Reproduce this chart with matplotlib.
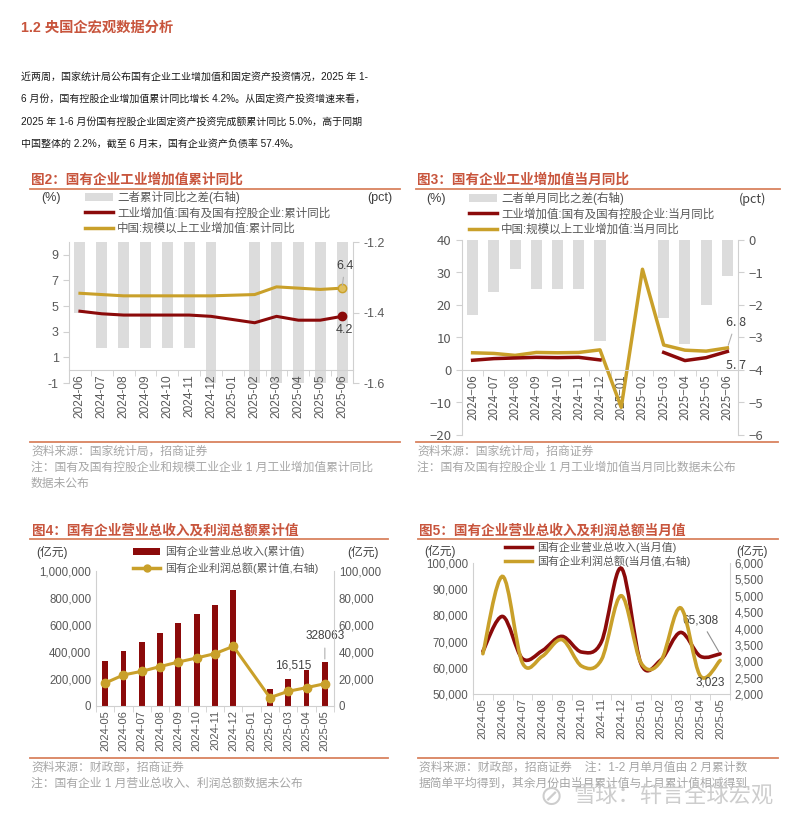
import numpy as np
import matplotlib.pyplot as plt
from matplotlib.path import Path
from matplotlib.patches import PathPatch, Patch
from matplotlib.lines import Line2D
from matplotlib.ticker import FuncFormatter

plt.rcParams['font.family'] = ['Liberation Sans', 'Noto Sans CJK SC']
plt.rcParams['axes.unicode_minus'] = False

nan = np.nan

# ---- data: industrial value added (fig 2 / fig 3) ----
months_a = ['2024-06', '2024-07', '2024-08', '2024-09', '2024-10', '2024-11', '2024-12',
            '2025-01', '2025-02', '2025-03', '2025-04', '2025-05', '2025-06']
cum_soe = [4.6, 4.4, 4.3, 4.3, 4.3, 4.3, 4.2, nan, 3.7, 4.2, 3.9, 3.9, 4.2]
cum_all = [6.0, 5.9, 5.8, 5.8, 5.8, 5.8, 5.8, nan, 5.9, 6.5, 6.4, 6.3, 6.4]
cum_diff = [-1.4, -1.5, -1.5, -1.5, -1.5, -1.5, -1.6, nan, -2.2, -2.3, -2.5, -2.4, -2.2]

mon_soe = [3.0, 3.5, 3.7, 3.9, 3.8, 3.9, 3.1, nan, nan, 5.4, 2.9, 3.8, 5.7]
mon_all = [5.3, 5.1, 4.5, 5.4, 5.3, 5.4, 6.2, -11.5, 31.0, 7.7, 6.1, 5.8, 6.8]
mon_diff = [-2.3, -1.6, -0.9, -1.5, -1.5, -1.5, -3.1, nan, nan, -2.4, -3.2, -2.0, -1.1]

# ---- data: revenue and profit (fig 4 / fig 5), 亿元 ----
months_b = ['2024-05', '2024-06', '2024-07', '2024-08', '2024-09', '2024-10', '2024-11',
            '2024-12', '2025-01', '2025-02', '2025-03', '2025-04', '2025-05']
rev_cum = [331000, 410000, 475000, 540000, 612000, 680000, 750000, 857000, nan,
           125000, 200000, 265000, 328063]
profit_cum = [17000, 23000, 25700, 29200, 32600, 35600, 38800, 44200, nan,
              6200, 10900, 13600, 16515]
rev_mon = [66300, 79600, 63500, 66500, 72000, 66000, 70000, 98000, 61500, 63000,
           73500, 64400, 65308]
profit_mon = [3230, 5590, 2950, 3150, 3660, 2850, 3050, 5000, 2950, 3000, 4630,
              2550, 3023]

RED = '#8B0A0A'
GOLD = '#C9A02A'
BARGRAY = '#DCDCDC'
TITLE = '#C8553D'
RULE = '#D9825F'
TICK = '#595959'
SPINE = '#D0D0D0'
SRC = '#A6A6A6'

W, H = 800, 821
fig = plt.figure(figsize=(W / 100, H / 100), dpi=100)


def fx(px):
    return px / W


def fy(py):
    return 1 - py / H


def add_ax(l, t, r, b):
    return fig.add_axes([l / W, 1 - b / H, (r - l) / W, (b - t) / H])


def rule(x0, x1, y):
    fig.add_artist(Line2D([fx(x0), fx(x1)], [fy(y), fy(y)], color=RULE, lw=1.3))


def smooth_path(x, y):
    # Excel-like smoothed line (Catmull-Rom as cubic Bezier)
    x = np.asarray(x, float)
    y = np.asarray(y, float)
    n = len(x)
    verts = [(x[0], y[0])]
    codes = [Path.MOVETO]
    for i in range(n - 1):
        p0 = np.array([x[max(i - 1, 0)], y[max(i - 1, 0)]])
        p1 = np.array([x[i], y[i]])
        p2 = np.array([x[i + 1], y[i + 1]])
        p3 = np.array([x[min(i + 2, n - 1)], y[min(i + 2, n - 1)]])
        verts += [tuple(p1 + (p2 - p0) / 6), tuple(p2 - (p3 - p1) / 6), tuple(p2)]
        codes += [Path.CURVE4] * 3
    return Path(verts, codes)


def base_style(ax, axr, size=9, family=None):
    for a in (ax, axr):
        for s in a.spines.values():
            s.set_visible(False)
        a.tick_params(colors=TICK, labelsize=size, length=4, width=0.8)
        a.tick_params(axis='y', color=SPINE)
        if family:
            for lab in a.get_yticklabels():
                lab.set_family(family)
    ax.spines['left'].set_visible(True)
    ax.spines['left'].set_color(SPINE)
    axr.spines['right'].set_visible(True)
    axr.spines['right'].set_color(SPINE)


def cat_xaxis(ax, labels, at_zero, size, family=None):
    n = len(labels)
    ax.spines['bottom'].set_visible(True)
    ax.spines['bottom'].set_color(SPINE)
    if at_zero:
        ax.spines['bottom'].set_position(('data', 0))
    ax.set_xlim(-0.5, n - 0.5)
    ax.set_xticks(range(n))
    ax.set_xticklabels(labels, rotation=90, fontsize=size, color=TICK)
    if family:
        for lab in ax.get_xticklabels():
            lab.set_family(family)
    ax.set_xticks(np.arange(-0.5, n, 1), minor=True)
    ax.tick_params(axis='x', which='major', length=0, pad=3)
    ax.tick_params(axis='x', which='minor', length=4, color=SPINE)


# ---------------- header text ----------------
fig.text(fx(21), fy(28), '1.2 央国企宏观数据分析', fontsize=10.3, fontweight='bold',
         color=TITLE, va='center')
para = ['近两周，国家统计局公布国有企业工业增加值和固定资产投资情况，2025 年 1-',
        '6 月份，国有控股企业增加值累计同比增长 4.2%。从固定资产投资增速来看，',
        '2025 年 1-6 月份国有控股企业固定资产投资完成额累计同比 5.0%，高于同期',
        '中国整体的 2.2%，截至 6 月末，国有企业资产负债率 57.4%。']
for i, line in enumerate(para):
    fig.text(fx(21), fy(77 + 22.3 * i), line, fontsize=7.2, color='#1A1A1A', va='center')

# ---------------- figure 2 ----------------
fig.text(fx(31), fy(180), '图2：国有企业工业增加值累计同比', fontsize=9.8,
         fontweight='bold', color=TITLE, va='center')
rule(30, 400, 189)

x = np.arange(len(months_a))
ax2 = add_ax(69, 242, 353, 383)
ax2r = ax2.twinx()
ax2r.bar(x, cum_diff, width=0.5, color=BARGRAY)
ax2r.set_ylim(-1.6, -1.2)
ax2r.set_yticks([-1.6, -1.4, -1.2])
ax2r.yaxis.set_major_formatter(FuncFormatter(lambda v, p: f'{v:.1f}'))
ax2.set_zorder(ax2r.get_zorder() + 1)
ax2.patch.set_visible(False)

m = ~np.isnan(np.array(cum_all))
ax2.plot(x[m], np.array(cum_all)[m], color=GOLD, lw=2.2)
ax2.plot(x[m], np.array(cum_soe)[m], color=RED, lw=2.2)
ax2.plot(x[-1], cum_all[-1], 'o', ms=6, color=GOLD, mfc='#E0C060')
ax2.plot(x[-1], cum_soe[-1], 'o', ms=6, color=RED)
ax2.set_ylim(-1, 10)
ax2.set_yticks(range(-1, 10, 2))
base_style(ax2, ax2r, size=9)
cat_xaxis(ax2, months_a, True, 8.6)
ax2.annotate(f'{cum_all[-1]:.1f}', xy=(x[-1], cum_all[-1]), xytext=(2, 14),
             textcoords='offset points', ha='center', fontsize=9, color='#404040',
             arrowprops=dict(arrowstyle='-', color='#B0B0B0', lw=0.8))
ax2.annotate(f'{cum_soe[-1]:.1f}', xy=(x[-1], cum_soe[-1]), xytext=(2, -10),
             textcoords='offset points', ha='center', va='center', fontsize=9,
             color='#404040')
fig.text(fx(51), fy(198), '(%)', fontsize=9, color='#404040', ha='center', va='center')
fig.text(fx(380), fy(198), '(pct)', fontsize=9, color='#404040', ha='center', va='center')
fig.legend([Patch(facecolor=BARGRAY), Line2D([], [], color=RED, lw=2.5),
            Line2D([], [], color=GOLD, lw=2.5)],
           ['二者累计同比之差(右轴)', '工业增加值:国有及国有控股企业:累计同比',
            '中国:规模以上工业增加值:累计同比'],
           loc='upper left', bbox_to_anchor=(fx(85), fy(191)), frameon=False,
           fontsize=8.3, handlelength=2.4, handleheight=0.7, labelspacing=0.3,
           handletextpad=0.4, borderpad=0, borderaxespad=0, labelcolor='#595959')
rule(30, 400, 441.5)
fig.text(fx(31), fy(452), '资料来源：国家统计局，招商证券', fontsize=8.5, color=SRC, va='center')
fig.text(fx(31), fy(468), '注：国有及国有控股企业和规模工业企业 1 月工业增加值累计同比',
         fontsize=8.5, color=SRC, va='center')
fig.text(fx(31), fy(484), '数据未公布', fontsize=8.5, color=SRC, va='center')

# ---------------- figure 3 ----------------
fig.text(fx(417), fy(180), '图3：国有企业工业增加值当月同比', fontsize=9.8,
         fontweight='bold', color=TITLE, va='center')
rule(416, 780, 189)

ax3 = add_ax(462, 240, 738, 435)
ax3r = ax3.twinx()
ax3r.bar(x, mon_diff, width=0.52, color=BARGRAY)
ax3r.set_ylim(-6, 0)
ax3r.set_yticks(range(-6, 1))
ax3r.yaxis.set_major_formatter(FuncFormatter(lambda v, p: f'{v:.0f}'.replace('-', '\u2212')))
ax3.set_zorder(ax3r.get_zorder() + 1)
ax3.patch.set_visible(False)
ax3.plot(x, mon_all, color=GOLD, lw=2.5)
ax3.plot(x, mon_soe, color=RED, lw=2.5)
ax3.set_ylim(-20, 40)
ax3.set_yticks(range(-20, 41, 10))
ax3.yaxis.set_major_formatter(FuncFormatter(lambda v, p: f'{v:.0f}'.replace('-', '\u2212')))
base_style(ax3, ax3r, size=9.5, family='Noto Sans CJK SC')
cat_xaxis(ax3, [s.replace('-', '\u2212') for s in months_a], True, 8.4,
          family='Noto Sans CJK SC')
ax3.annotate(f'{mon_all[-1]:.1f}'.replace('.', '. '), xy=(x[-1], mon_all[-1]),
             xytext=(6, 16), textcoords='offset points', ha='center', fontsize=9,
             color='#404040', family='Noto Sans CJK SC',
             arrowprops=dict(arrowstyle='-', color='#B0B0B0', lw=0.8))
ax3.annotate(f'{mon_soe[-1]:.1f}'.replace('.', '. '), xy=(x[-1], mon_soe[-1]),
             xytext=(6, -10), textcoords='offset points', ha='center', va='center',
             fontsize=9, color='#404040', family='Noto Sans CJK SC')
fig.text(fx(436), fy(199), '(%)', fontsize=9, color='#404040', ha='center', va='center')
fig.text(fx(753), fy(199), '(pct)', fontsize=9, color='#404040', ha='center', va='center',
         family='Noto Sans CJK SC')
fig.legend([Patch(facecolor=BARGRAY), Line2D([], [], color=RED, lw=2.5),
            Line2D([], [], color=GOLD, lw=2.5)],
           ['二者单月同比之差(右轴)', '工业增加值:国有及国有控股企业:当月同比',
            '中国:规模以上工业增加值:当月同比'],
           loc='upper left', bbox_to_anchor=(fx(469), fy(192)), frameon=False,
           fontsize=8.3, handlelength=2.4, handleheight=0.7, labelspacing=0.3,
           handletextpad=0.4, borderpad=0, borderaxespad=0, labelcolor='#595959')
rule(416, 778, 441.5)
fig.text(fx(417), fy(452), '资料来源：国家统计局，招商证券', fontsize=8.5, color=SRC, va='center')
fig.text(fx(417), fy(468), '注：国有及国有控股企业 1 月工业增加值当月同比数据未公布',
         fontsize=8.5, color=SRC, va='center')

# ---------------- figure 4 ----------------
fig.text(fx(32), fy(531), '图4：国有企业营业总收入及利润总额累计值', fontsize=9.8,
         fontweight='bold', color=TITLE, va='center')
rule(30, 388, 539)

xb = np.arange(len(months_b))
ax4 = add_ax(96, 571, 334, 706)
ax4r = ax4.twinx()
ax4.bar(xb, rev_cum, width=0.32, color=RED)
ax4.set_ylim(0, 1000000)
ax4.set_yticks(range(0, 1000001, 200000))
ax4.yaxis.set_major_formatter(FuncFormatter(lambda v, p: f'{v:,.0f}'))
mb = ~np.isnan(np.array(profit_cum))
ax4r.plot(xb[mb], np.array(profit_cum)[mb], color=GOLD, lw=2.2, marker='o', ms=6)
ax4r.set_ylim(0, 100000)
ax4r.set_yticks(range(0, 100001, 20000))
ax4r.yaxis.set_major_formatter(FuncFormatter(lambda v, p: f'{v:,.0f}'))
base_style(ax4, ax4r, size=8.3)
ax4.tick_params(axis='y', length=0)
ax4r.tick_params(axis='y', length=0)
cat_xaxis(ax4, months_b, False, 8)
ax4.annotate(f'{rev_cum[-1]:.0f}', xy=(xb[-1], rev_cum[-1]), xytext=(0, 16),
             textcoords='offset points', ha='center', fontsize=8.5, color='#404040',
             arrowprops=dict(arrowstyle='-', color='#B0B0B0', lw=0.8))
ax4r.annotate(f'{profit_cum[-1]:,.0f}', xy=(xb[-1], profit_cum[-1]), xytext=(-23, 13),
              textcoords='offset points', ha='center', va='center', fontsize=8.5,
              color='#404040')
fig.text(fx(52), fy(552), '(亿元)', fontsize=8.5, color='#404040', ha='center', va='center')
fig.text(fx(363), fy(552), '(亿元)', fontsize=8.5, color='#404040', ha='center', va='center')
fig.legend([Patch(facecolor=RED), Line2D([], [], color=GOLD, lw=2.5, marker='o', ms=5)],
           ['国有企业营业总收入(累计值)', '国有企业利润总额(累计值,右轴)'],
           loc='upper left', bbox_to_anchor=(fx(133), fy(546)), frameon=False,
           fontsize=7.9, handlelength=2.5, handleheight=0.7, labelspacing=0.45,
           handletextpad=0.4, borderpad=0, borderaxespad=0, labelcolor='#595959')
rule(30, 388, 758)
fig.text(fx(31), fy(768), '资料来源：财政部，招商证券', fontsize=8.5, color=SRC, va='center')
fig.text(fx(31), fy(784), '注：国有企业 1 月营业总收入、利润总额数据未公布',
         fontsize=8.5, color=SRC, va='center')

# ---------------- figure 5 ----------------
fig.text(fx(419), fy(531), '图5：国有企业营业总收入及利润总额当月值', fontsize=9.8,
         fontweight='bold', color=TITLE, va='center')
rule(418, 778, 539)

ax5 = add_ax(473, 563, 730, 694)
ax5r = ax5.twinx()
ax5.add_patch(PathPatch(smooth_path(xb, rev_mon), facecolor='none', edgecolor=RED,
                        lw=2.6, capstyle='round'))
ax5r.add_patch(PathPatch(smooth_path(xb, profit_mon), facecolor='none', edgecolor=GOLD,
                         lw=2.6, capstyle='round'))
ax5.set_ylim(50000, 100000)
ax5.set_yticks(range(50000, 100001, 10000))
ax5.yaxis.set_major_formatter(FuncFormatter(lambda v, p: f'{v:,.0f}'))
ax5r.set_ylim(2000, 6000)
ax5r.set_yticks(range(2000, 6001, 500))
ax5r.yaxis.set_major_formatter(FuncFormatter(lambda v, p: f'{v:,.0f}'))
base_style(ax5, ax5r, size=8.3)
ax5.tick_params(axis='y', length=0)
ax5r.tick_params(axis='y', length=0)
cat_xaxis(ax5, months_b, False, 8)
ax5.annotate(f'{rev_mon[-1]:,.0f}', xy=(xb[-1], rev_mon[-1]), xytext=(-14, 24),
             textcoords='offset points', ha='center', va='center', fontsize=8.5,
             color='#404040', arrowprops=dict(arrowstyle='-', color='#909090', lw=0.8))
ax5r.annotate(f'{profit_mon[-1]:,.0f}', xy=(xb[-1], profit_mon[-1]), xytext=(-7, -16),
              textcoords='offset points', ha='center', va='center', fontsize=8.5,
              color='#404040')
fig.text(fx(440), fy(551), '(亿元)', fontsize=8.5, color='#404040', ha='center', va='center')
fig.text(fx(752), fy(551), '(亿元)', fontsize=8.5, color='#404040', ha='center', va='center')
fig.legend([Line2D([], [], color=RED, lw=2.5), Line2D([], [], color=GOLD, lw=2.5)],
           ['国有企业营业总收入(当月值)', '国有企业利润总额(当月值,右轴)'],
           loc='upper left', bbox_to_anchor=(fx(505), fy(542)), frameon=False,
           fontsize=7.9, handlelength=2.5, handleheight=0.7, labelspacing=0.22,
           handletextpad=0.4, borderpad=0, borderaxespad=0, labelcolor='#595959')
rule(418, 778, 758)
fig.text(fx(419), fy(768), '资料来源：财政部，招商证券    注：1-2 月单月值由 2 月累计数',
         fontsize=8.5, color=SRC, va='center')
fig.text(fx(419), fy(784), '据简单平均得到，其余月份由当月累计值与上月累计值相减得到',
         fontsize=8.5, color=SRC, va='center')

# watermark
fig.text(fx(540), fy(797), '\u2298', fontsize=20, color='#C8C8C8', va='center', alpha=0.9,
         family=['DejaVu Sans'])
fig.text(fx(573), fy(797), '雪球：轩言全球宏观', fontsize=16, color='#C8C8C8', va='center',
         alpha=0.9)

fig.savefig('out.png', dpi=100)
